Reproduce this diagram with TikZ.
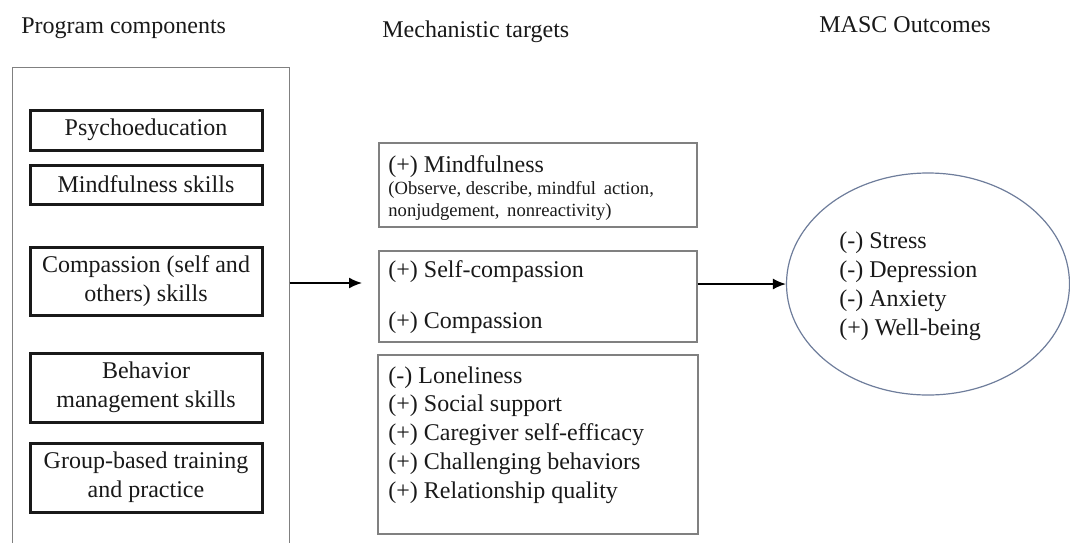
\documentclass[tikz,border=0pt]{standalone}
\usepackage{fontspec}
\setmainfont{Liberation Serif}
\usetikzlibrary{shapes,arrows,arrows.meta,positioning,calc}

\begin{document}
\begin{tikzpicture}[x=0.5pt,y=-0.5pt,>={Latex[length=6.5pt,width=5.5pt]},
    heading/.style={anchor=base west, inner sep=0pt, text=black!90, font=\fontsize{12}{14}\selectfont},
    compbox/.style={draw=black!90, line width=1.5pt, minimum width=116pt, inner sep=0pt, align=center, text=black!90, font=\fontsize{12}{14.7}\selectfont},
    targetbox/.style={draw=black!50, line width=0.6pt, minimum width=159pt, inner sep=0pt},
    listtext/.style={anchor=base west, inner sep=0pt, text=black!90, font=\fontsize{12}{14}\selectfont},
    smalltext/.style={anchor=base west, inner sep=0pt, text=black!90, font=\fontsize{9.3}{11}\selectfont}]

    \useasboundingbox (0,0) rectangle (1070,542);

    % Headings
    \node[heading] (hprog) at (21,33) {Program components};
    \node[heading] (htarg) at (382,37) {Mechanistic targets};
    \node[heading] (hout) at (819,32) {MASC Outcomes};

    % Program components
    \node[draw=black!50, line width=0.5pt, minimum width=138.5pt, minimum height=246.5pt, inner sep=0pt] (prog) at (150.5,313.5) {};
    \node[compbox, minimum height=20pt] (psy) at (146,130) {Psychoeducation};
    \node[compbox, minimum height=19.5pt] (mskill) at (146,184.5) {Mindfulness skills};
    \node[compbox, minimum height=34pt] (cskill) at (146,281) {Compassion (self and\\others) skills};
    \node[compbox, minimum height=34.5pt] (bskill) at (146,387.5) {Behavior\\management skills};
    \node[compbox, minimum height=34.5pt] (group) at (146,477.5) {Group-based training\\and practice};

    % Mechanistic targets
    \node[targetbox, minimum height=42pt] (targ1) at (538,185) {};
    \node[listtext] (mind) at (388,172) {(+) Mindfulness};
    \node[smalltext] (facet1) at (388,194) {(Observe, describe, mindful\, action,};
    \node[smalltext] (facet2) at (388,216) {nonjudgement,\, nonreactivity)};

    \node[targetbox, minimum height=45.5pt] (targ2) at (538,296.5) {};
    \node[listtext] (selfc) at (388,277) {(+) Self-compassion};
    \node[listtext] (comp) at (388,328) {(+) Compassion};

    \node[targetbox, minimum width=160pt, minimum height=89.5pt] (targ3) at (538,444.5) {};
    \foreach \txt [count=\i] in {(-) Loneliness, (+) Social support, (+) Caregiver self-efficacy, (+) Challenging behaviors, (+) Relationship quality}
        \node[listtext] (soc\i) at (388,{383+28.8*(\i-1)}) {\txt};

    % MASC outcomes
    \node[draw={rgb,255:red,110;green,125;blue,155}, line width=0.6pt, ellipse, minimum width=141.5pt, minimum height=111pt, inner sep=0pt] (outc) at (928,284) {};
    \foreach \txt [count=\i] in {(-) Stress, (-) Depression, (-) Anxiety, (+) Well-being}
        \node[listtext] (res\i) at (839,{248+29*(\i-1)}) {\txt};

    % Arrows
    \coordinate (a1) at (362,283);
    \draw[->, line width=0.8pt] (prog.east |- a1) -- (a1);
    \draw[->, line width=0.8pt] (targ2.east |- outc.west) -- (outc.west);
\end{tikzpicture}
\end{document}
